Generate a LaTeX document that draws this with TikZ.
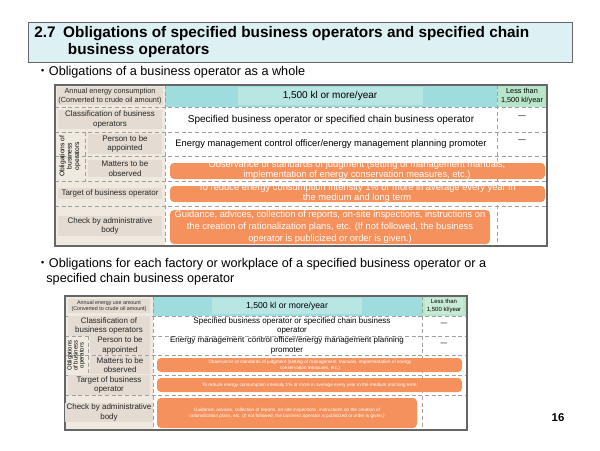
\documentclass[tikz,border=0pt]{standalone}
\usepackage{fontspec}
\setmainfont{Liberation Sans}
\newfontfamily\cjkf{Noto Sans CJK JP}
\definecolor{ttl}{HTML}{DDF0F4}
\definecolor{hdr}{HTML}{9FDCDD}
\definecolor{hdrin}{HTML}{B8E6E3}
\definecolor{grn}{HTML}{B9E6CB}
\definecolor{beige}{HTML}{EFE9DF}
\definecolor{beigein}{HTML}{E4DCD2}
\definecolor{org}{HTML}{F4915C}
\definecolor{grid}{HTML}{A0A0A0}
\tikzset{
 cell/.style={draw=grid,densely dashed,line width=0.4pt},
 lab/.style={fill=beigein,inner sep=1pt,align=center,text=black!85},
 bar/.style={fill=org,rounded corners=3pt,draw=none},
 bartxt/.style={text=white,align=center,inner sep=0pt},
 frame/.style={draw=black!60,line width=0.8pt}
}
\begin{document}
\begin{tikzpicture}[x=0.75pt,y=-0.75pt]
\useasboundingbox (0,0) rectangle (600,450);
\fill[white] (0,0) rectangle (600,450);
% title
\node[draw=black!60,fill=ttl,minimum width=544*0.75pt,minimum height=40*0.75pt,anchor=north west] (title) at (28,22) {};
\node[anchor=north west,font=\bfseries\fontsize{11.5}{13}\selectfont,align=left,inner sep=0pt] (ttext) at (34,26) {2.7\enspace Obligations of specified business operators and specified chain\\\hspace{2.2em}business operators};
\node[anchor=west,font=\fontsize{9.5}{11}\selectfont,inner sep=0pt] (b1) at (36,72) {{\cjkf ・}Obligations of a business operator as a whole};
% ===== table 1 =====
\fill[beige] (55,85) rectangle (165,246);
\fill[hdr] (165,85) rectangle (497,107);
\fill[grn] (497,85) rectangle (547,107);
\foreach \y in {107,132,156,181,206} {\draw[cell] (55,\y) -- (547,\y);}
\draw[cell] (165,85) -- (165,246); \draw[cell] (497,85) -- (497,246);
\draw[cell] (85,132) -- (85,181);
\draw[frame] (55,85) rectangle (547,246);
\node[fill=hdrin,minimum width=185*0.75pt,minimum height=14*0.75pt,font=\fontsize{7.5}{9}\selectfont] (h1) at (330,96) {1,500 kl or more/year};
\node[align=center,font=\fontsize{5.5}{6.5}\selectfont,inner sep=0pt] (l1) at (522,96) {Less than\\1,500 kl/year};
\node[lab,font=\fontsize{5.5}{6.5}\selectfont,minimum width=104*0.75pt] (a1) at (110,96) {Annual energy consumption\\(Converted to crude oil amount)};
\node[lab,font=\fontsize{6}{7}\selectfont,minimum width=104*0.75pt] (a2) at (110,119.5) {Classification of business\\operators};
\node[rotate=90,align=center,font=\fontsize{5}{5.5}\selectfont,inner sep=0pt] (a3) at (70,156) {Obligations of\\business\\operators};
\node[lab,font=\fontsize{6}{7}\selectfont,minimum width=74*0.75pt] (a4) at (125,144) {Person to be\\appointed};
\node[lab,font=\fontsize{6}{7}\selectfont,minimum width=74*0.75pt] (a5) at (125,168.5) {Matters to be\\observed};
\node[lab,font=\fontsize{6}{7}\selectfont,minimum width=104*0.75pt] (a6) at (110,193.5) {Target of business operator};
\node[lab,font=\fontsize{6}{7}\selectfont,minimum width=104*0.75pt] (a7) at (110,226) {Check by administrative\\body};
\node[font=\fontsize{7.5}{9}\selectfont] (c2) at (331,119.5) {Specified business operator or specified chain business operator};
\node[font=\fontsize{7}{8}\selectfont] (c3) at (331,144) {Energy management control officer/energy management planning promoter};
\node[text=black!60] (d2) at (522,118) {–}; \node[text=black!60] (d3) at (522,142) {–};
\fill[bar] (170,163) rectangle (545,179);
\node[bartxt,font=\fontsize{7}{7.5}\selectfont] (c4) at (357,170) {Observance of standards of judgment (setting of management manuals,\\implementation of energy conservation measures, etc.)};
\fill[bar] (170,186) rectangle (545,202);
\node[bartxt,font=\fontsize{7}{7.5}\selectfont] (c5) at (357,193) {To reduce energy consumption intensity 1\% or more in average every year in\\the medium and long term};
\fill[bar] (170,210) rectangle (490,244);
\node[bartxt,font=\fontsize{7}{9}\selectfont] (c6) at (330,227) {Guidance, advices, collection of reports, on-site inspections, instructions on\\the creation of rationalization plans, etc. (If not followed, the business\\operator is publicized or order is given.)};
% bullet 2
\node[anchor=north west,font=\fontsize{9.5}{11.5}\selectfont,align=left,inner sep=0pt] (b2) at (36,258) {{\cjkf ・}Obligations for each factory or workplace of a specified business operator or a\\\hspace{0.8em}specified chain business operator};
% ===== table 2 =====
\fill[beige] (65,296) rectangle (153,430);
\fill[hdr] (153,296) rectangle (422,316);
\fill[grn] (422,296) rectangle (467,316);
\foreach \y in {316,336,355,375,395} {\draw[cell] (65,\y) -- (467,\y);}
\draw[cell] (153,296) -- (153,430); \draw[cell] (422,296) -- (422,430);
\draw[cell] (88,336) -- (88,375);
\draw[frame] (65,296) rectangle (467,430);
\node[fill=hdrin,minimum width=150*0.75pt,minimum height=12*0.75pt,font=\fontsize{6.5}{8}\selectfont] (h2) at (287,306) {1,500 kl or more/year};
\node[align=center,font=\fontsize{4.5}{5.5}\selectfont,fill=grn!80!white,inner sep=1pt] (l2) at (444,306) {Less than\\1,500 kl/year};
\node[lab,font=\fontsize{4}{4.5}\selectfont,minimum width=82*0.75pt] (e1) at (109,306) {Annual energy use amount\\(Converted to crude oil amount)};
\node[lab,font=\fontsize{6}{7}\selectfont,minimum width=82*0.75pt] (e2) at (109,326) {Classification of\\business operators};
\node[rotate=90,align=center,font=\fontsize{4.5}{4.5}\selectfont,inner sep=0pt] (e3) at (76,355.5) {Obligations\\of business\\operators};
\node[lab,font=\fontsize{6}{7}\selectfont,minimum width=60*0.75pt] (e4) at (120,345.5) {Person to be\\appointed};
\node[lab,font=\fontsize{6}{7}\selectfont,minimum width=60*0.75pt] (e5) at (120,365) {Matters to be\\observed};
\node[lab,font=\fontsize{6}{7}\selectfont,minimum width=82*0.75pt] (e6) at (109,385) {Target of business\\operator};
\node[lab,font=\fontsize{6}{7}\selectfont,minimum width=82*0.75pt] (e7) at (109,412.5) {Check by administrative\\body};
\node[align=center,font=\fontsize{6}{7}\selectfont,inner sep=0pt] (f2) at (292,326) {Specified business operator or specified chain business\\operator};
\node[align=center,font=\fontsize{6}{7}\selectfont,inner sep=0pt] (f3) at (287,345.5) {Energy management\, control officer/energy management planning\\promoter};
\node[font=\small,text=black!60] (g2) at (444,325) {–}; \node[font=\small,text=black!60] (g3) at (444,345) {–};
\fill[bar] (157,358) rectangle (462,372);
\node[bartxt,font=\fontsize{3.5}{4.5}\selectfont] (f4) at (310,365) {Observance of standards of judgment (setting of management\, manuals, implementation of energy\\conservation measures, etc.)};
\fill[bar] (157,378) rectangle (462,392);
\node[bartxt,font=\fontsize{3.5}{4.5}\selectfont] (f5) at (310,385) {To reduce energy consumption intensity 1\% or more in average every year in the medium and long term.};
\fill[bar] (157,398) rectangle (417,428);
\node[bartxt,font=\fontsize{3.5}{4.5}\selectfont] (f6) at (287,413) {Guidance, advices, collection of reports, on-site inspections, instructions on the creation of\\rationalization plans, etc. (If not followed, the business operator is publicized or order is given.)};
\node[font=\bfseries\fontsize{8.5}{10}\selectfont] (pg) at (558,418) {16};
\end{tikzpicture}
\end{document}
